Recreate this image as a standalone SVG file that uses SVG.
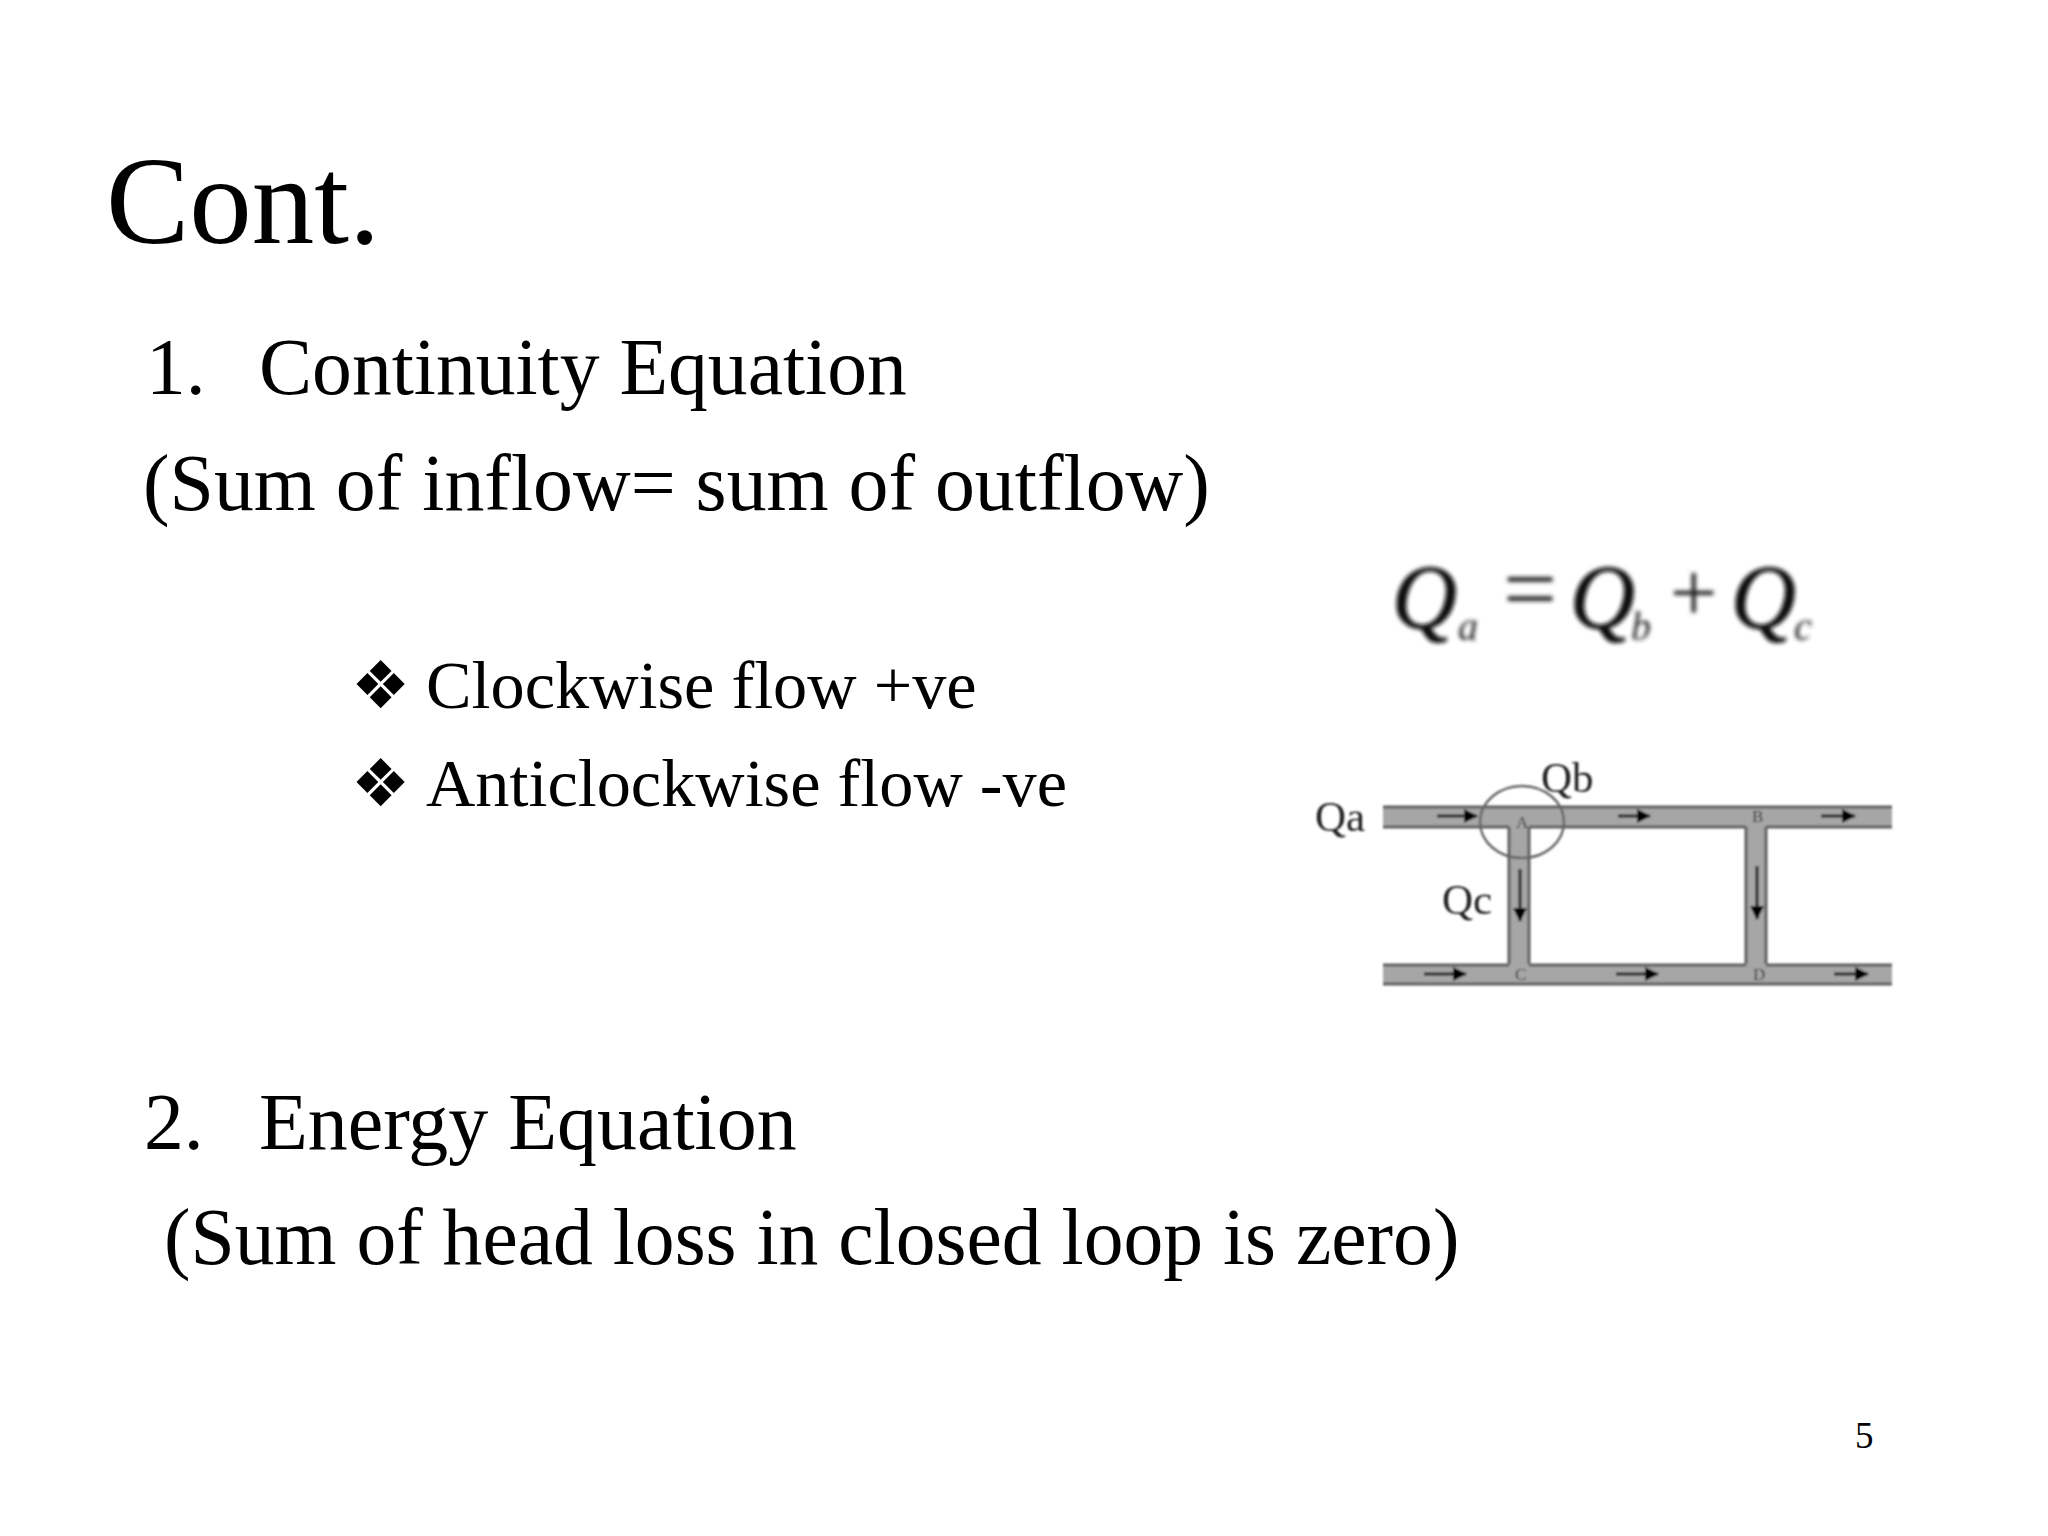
<svg xmlns="http://www.w3.org/2000/svg" width="2048" height="1536" viewBox="0 0 2048 1536">
<defs>
<style>
text{font-family:"Liberation Serif","Times New Roman",serif;fill:#000}
.title{font-size:125px}
.body{font-size:79.6px}
.bul{font-size:68.3px}
.glyph{font-family:"DejaVu Sans",sans-serif;font-size:66px}
.lab{font-size:43px;fill:#222}
.pt{font-size:17px;fill:#333}
.eq{font-size:90px;font-style:italic;fill:#111;stroke:#111;stroke-width:1}
.eqo{fill:#222}
.sub{font-size:40px;font-style:italic;fill:#222}
.pipe{fill:#a6a6a6;stroke:none}
.edge{stroke:#5e5e5e;stroke-width:3;fill:none}
.flow{stroke:#222;stroke-width:3;fill:none;marker-end:url(#ah)}
</style>
<marker id="ah" markerUnits="userSpaceOnUse" markerWidth="14" markerHeight="14" refX="13" refY="7" orient="auto"><path d="M0 0L14 7L0 14Z" fill="#000"/></marker>
<filter id="b1" x="-5%" y="-5%" width="110%" height="110%"><feGaussianBlur stdDeviation="1"/></filter>
<filter id="b2" x="-5%" y="-20%" width="110%" height="140%"><feGaussianBlur stdDeviation="2"/></filter>
</defs>
<rect width="2048" height="1536" fill="#fff"/>
<g id="title"><text class="title" x="106" y="243">Cont.</text></g>
<g id="item1">
<text class="body" x="146" y="394">1.</text>
<text class="body" x="259" y="394">Continuity Equation</text>
<text class="body" x="143" y="510" style="font-size:79.8px">(Sum of inflow= sum of outflow)</text>
</g>
<g id="bullets">
<text class="glyph" x="351" y="708">❖</text>
<text class="bul" x="426" y="708">Clockwise flow +ve</text>
<text class="glyph" x="351" y="806">❖</text>
<text class="bul" x="426" y="806">Anticlockwise flow -ve</text>
</g>
<g id="item2">
<text class="body" x="144" y="1149">2.</text>
<text class="body" x="259" y="1149" style="font-size:79.9px">Energy Equation</text>
<text class="body" x="164" y="1264">(Sum of head loss in closed loop is zero)</text>
</g>
<g id="page"><text x="1855" y="1448" style="font-size:37px">5</text></g>
<g id="equation" filter="url(#b2)">
<text class="eq" x="1392" y="628">Q</text><text class="sub" x="1458" y="640">a</text>
<text class="eqo" x="1503" y="621" style="font-size:96px">=</text>
<text class="eq" x="1570" y="628">Q</text><text class="sub" x="1631" y="640">b</text>
<text class="eqo" x="1670" y="621" style="font-size:84px">+</text>
<text class="eq" x="1731" y="628">Q</text><text class="sub" x="1794" y="640">c</text>
</g>
<g id="network" filter="url(#b1)">
<g id="pipes">
<rect class="pipe" x="1383" y="806" width="509" height="21"/>
<rect class="pipe" x="1383" y="964" width="509" height="21"/>
<rect class="pipe" x="1509" y="827" width="20" height="137"/>
<rect class="pipe" x="1746" y="827" width="20" height="137"/>
<path class="edge" d="M1383 807H1892M1383 827H1509M1529 827H1746M1766 827H1892"/>
<path class="edge" d="M1383 965H1509M1529 965H1746M1766 965H1892M1383 984H1892"/>
<path class="edge" d="M1509 827V964M1529 827V964M1746 827V964M1766 827V964"/>
</g>
<g id="connectors">
<line class="flow" x1="1437" y1="816" x2="1477" y2="816"/>
<line class="flow" x1="1618" y1="816" x2="1650" y2="816"/>
<line class="flow" x1="1821" y1="816" x2="1855" y2="816"/>
<line class="flow" x1="1424" y1="974" x2="1466" y2="974"/>
<line class="flow" x1="1616" y1="974" x2="1658" y2="974"/>
<line class="flow" x1="1834" y1="974" x2="1868" y2="974"/>
<line class="flow" x1="1520" y1="869" x2="1520" y2="921"/>
<line class="flow" x1="1757" y1="866" x2="1757" y2="919"/>
</g>
<ellipse id="junction" cx="1522" cy="822" rx="42" ry="36" fill="none" stroke="#666" stroke-width="2.5"/>
<g id="labels">
<text class="lab" x="1315" y="831">Qa</text>
<text class="lab" x="1541" y="792">Qb</text>
<text class="lab" x="1442" y="914">Qc</text>
<text class="pt" x="1516" y="828">A</text>
<text class="pt" x="1752" y="822">B</text>
<text class="pt" x="1515" y="980">C</text>
<text class="pt" x="1753" y="980">D</text>
</g>
</g>
</svg>
